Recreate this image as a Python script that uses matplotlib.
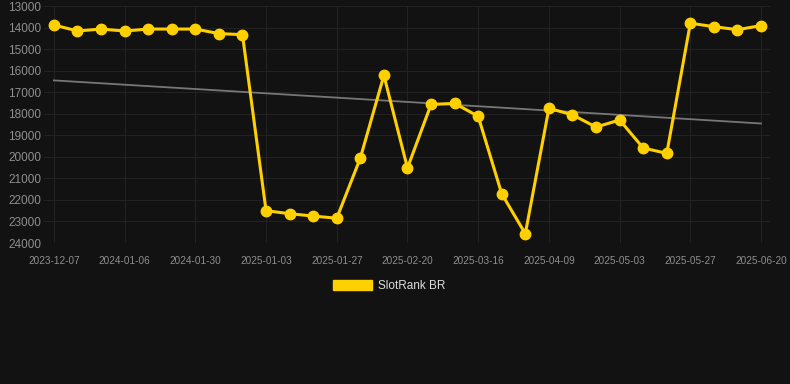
import matplotlib
matplotlib.use("Agg")
import matplotlib.pyplot as plt
from matplotlib.patches import Patch
import numpy as np

plt.rcParams["font.family"] = ["Liberation Sans", "DejaVu Sans"]

# ranks (lower is better, axis is inverted)
ranks = [13880, 14160, 14070, 14160, 14070, 14070, 14070, 14280, 14330,
         22500, 22640, 22750, 22850, 20060, 16220, 20520, 17570, 17520,
         18120, 21720, 23570, 17750, 18050, 18620, 18290, 19590, 19840,
         13800, 13960, 14100, 13910]
tick_labels = ["2023-12-07", "2024-01-06", "2024-01-30", "2025-01-03",
               "2025-01-27", "2025-02-20", "2025-03-16", "2025-04-09",
               "2025-05-03", "2025-05-27", "2025-06-20"]
y_ticks = list(range(13000, 24001, 1000))

bg = "#121212"
gold = "#FFD000"

fig = plt.figure(figsize=(7.9, 3.84), dpi=100, facecolor=bg)
ax = fig.add_axes([44 / 790, 1 - 243 / 384, 726 / 790, 237 / 384])
ax.set_facecolor(bg)

x = np.arange(len(ranks))
ax.plot(x, ranks, color=gold, lw=2.2, marker="o", ms=7.5, zorder=3)

# linear trend
k, b = np.polyfit(x, ranks, 1)
ax.plot(x, k * x + b, color="#777777", lw=1.3, zorder=2)

ax.set_ylim(24000, 13000)
ax.set_xlim(-0.42, 30.38)
ax.set_yticks(y_ticks)
ax.set_xticks(x[::3])
ax.set_xticklabels(tick_labels)
ax.tick_params(colors="#8f8f8f", labelsize=7.2, length=0, pad=9)
ax.tick_params(axis="y", labelsize=8.5, pad=2)
ax.grid(True, color="#222222", lw=0.8)
for s in ax.spines.values():
    s.set_visible(False)

ax.legend(handles=[Patch(color=gold, label="SlotRank BR")],
          loc="upper center", bbox_to_anchor=(0.476, -0.11), frameon=False,
          handlelength=3.3, handleheight=1.0, handletextpad=0.5,
          fontsize=8.5, labelcolor="#dddddd")

fig.savefig("out.png", facecolor=bg)
